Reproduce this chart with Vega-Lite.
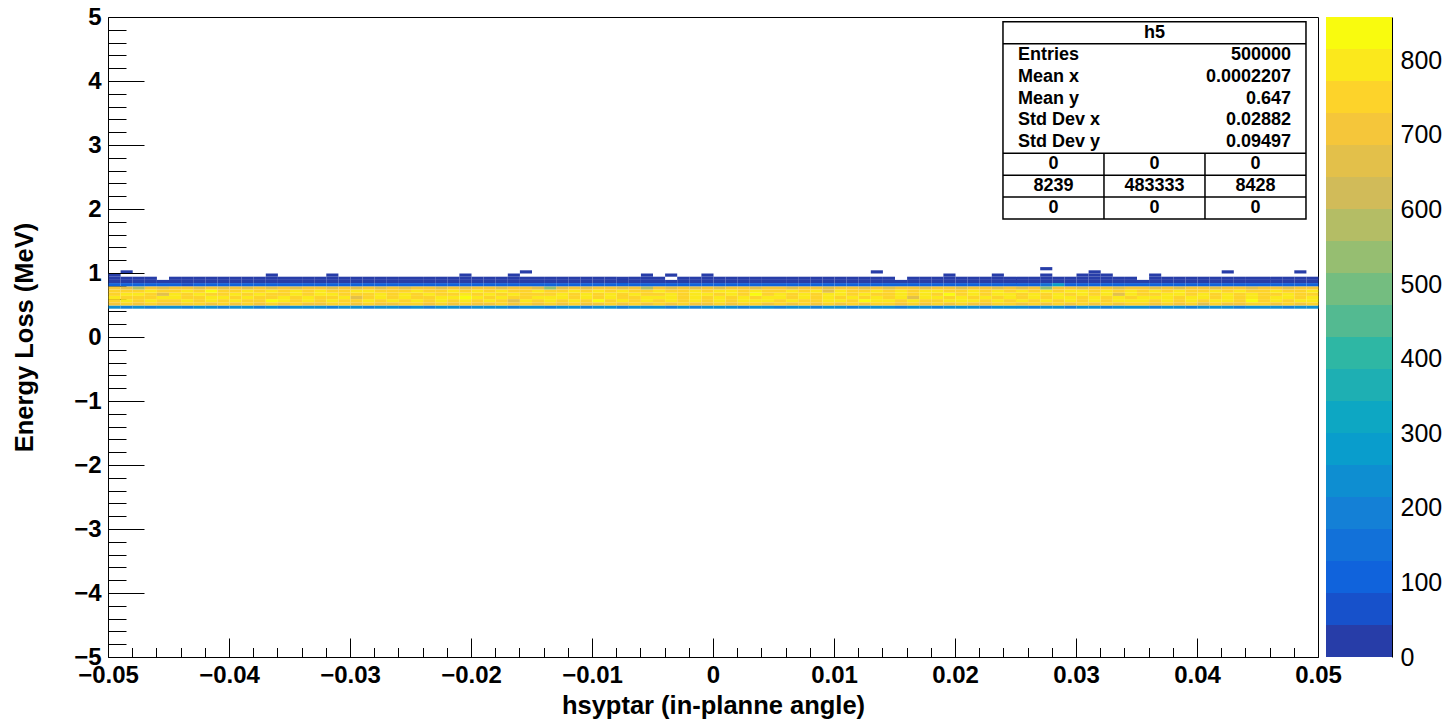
{
  "$schema": "https://vega.github.io/schema/vega-lite/v6.json",
  "padding": {"left": 12, "top": 4, "right": 0, "bottom": 0},
  "background": "white",
  "config": {
    "view": {"stroke": "black", "strokeWidth": 1},
    "axis": {"grid": false, "domain": false, "tickColor": "black", "tickWidth": 1, "labelColor": "black", "titleColor": "black", "labelFont": "Liberation Sans", "titleFont": "Liberation Sans"},
    "text": {"font": "Liberation Sans", "fontWeight": "bold", "fontSize": 18, "color": "black", "baseline": "middle"}
  },
  "spacing": 8,
  "bounds": "flush",
  "resolve": {"scale": {"color": "shared"}},
  "hconcat": [
    {
      "width": 1210,
      "height": 640,
      "layer": [
        {
          "layer": [
            {
              "data": {"values": [
{"x":-0.05,"y":0.45,"c":230},{"x":-0.05,"y":0.5,"c":720},{"x":-0.05,"y":0.55,"c":760},{"x":-0.05,"y":0.6,"c":790},{"x":-0.05,"y":0.65,"c":750},{"x":-0.05,"y":0.7,"c":770},{"x":-0.05,"y":0.75,"c":690},{"x":-0.05,"y":0.8,"c":110},{"x":-0.05,"y":0.85,"c":30},{"x":-0.05,"y":0.9,"c":9},{"x":-0.05,"y":0.95,"c":2},
{"x":-0.049,"y":0.45,"c":210},{"x":-0.049,"y":0.5,"c":735},{"x":-0.049,"y":0.55,"c":780},{"x":-0.049,"y":0.6,"c":745},{"x":-0.049,"y":0.65,"c":800},{"x":-0.049,"y":0.7,"c":760},{"x":-0.049,"y":0.75,"c":660},{"x":-0.049,"y":0.8,"c":95},{"x":-0.049,"y":0.85,"c":28},{"x":-0.049,"y":0.9,"c":7},{"x":-0.049,"y":1,"c":1},
{"x":-0.048,"y":0.45,"c":250},{"x":-0.048,"y":0.5,"c":705},{"x":-0.048,"y":0.55,"c":750},{"x":-0.048,"y":0.6,"c":770},{"x":-0.048,"y":0.65,"c":780},{"x":-0.048,"y":0.7,"c":745},{"x":-0.048,"y":0.75,"c":560},{"x":-0.048,"y":0.8,"c":120},{"x":-0.048,"y":0.85,"c":32},{"x":-0.048,"y":0.9,"c":10},
{"x":-0.047,"y":0.45,"c":190},{"x":-0.047,"y":0.5,"c":740},{"x":-0.047,"y":0.55,"c":790},{"x":-0.047,"y":0.6,"c":760},{"x":-0.047,"y":0.65,"c":740},{"x":-0.047,"y":0.7,"c":790},{"x":-0.047,"y":0.75,"c":700},{"x":-0.047,"y":0.8,"c":90},{"x":-0.047,"y":0.85,"c":25},{"x":-0.047,"y":0.9,"c":8},
{"x":-0.046,"y":0.45,"c":220},{"x":-0.046,"y":0.5,"c":725},{"x":-0.046,"y":0.55,"c":770},{"x":-0.046,"y":0.6,"c":805},{"x":-0.046,"y":0.65,"c":665},{"x":-0.046,"y":0.7,"c":735},{"x":-0.046,"y":0.75,"c":680},{"x":-0.046,"y":0.8,"c":100},{"x":-0.046,"y":0.85,"c":27},
{"x":-0.045,"y":0.45,"c":240},{"x":-0.045,"y":0.5,"c":700},{"x":-0.045,"y":0.55,"c":745},{"x":-0.045,"y":0.6,"c":780},{"x":-0.045,"y":0.65,"c":790},{"x":-0.045,"y":0.7,"c":770},{"x":-0.045,"y":0.75,"c":710},{"x":-0.045,"y":0.8,"c":105},{"x":-0.045,"y":0.85,"c":31},{"x":-0.045,"y":0.9,"c":6},
{"x":-0.044,"y":0.45,"c":205},{"x":-0.044,"y":0.5,"c":730},{"x":-0.044,"y":0.55,"c":800},{"x":-0.044,"y":0.6,"c":760},{"x":-0.044,"y":0.65,"c":755},{"x":-0.044,"y":0.7,"c":780},{"x":-0.044,"y":0.75,"c":690},{"x":-0.044,"y":0.8,"c":85},{"x":-0.044,"y":0.85,"c":29},{"x":-0.044,"y":0.9,"c":9},
{"x":-0.043,"y":0.45,"c":235},{"x":-0.043,"y":0.5,"c":745},{"x":-0.043,"y":0.55,"c":765},{"x":-0.043,"y":0.6,"c":740},{"x":-0.043,"y":0.65,"c":795},{"x":-0.043,"y":0.7,"c":750},{"x":-0.043,"y":0.75,"c":670},{"x":-0.043,"y":0.8,"c":115},{"x":-0.043,"y":0.85,"c":26},{"x":-0.043,"y":0.9,"c":8},
{"x":-0.042,"y":0.45,"c":215},{"x":-0.042,"y":0.5,"c":715},{"x":-0.042,"y":0.55,"c":780},{"x":-0.042,"y":0.6,"c":790},{"x":-0.042,"y":0.65,"c":760},{"x":-0.042,"y":0.7,"c":845},{"x":-0.042,"y":0.75,"c":700},{"x":-0.042,"y":0.8,"c":98},{"x":-0.042,"y":0.85,"c":30},{"x":-0.042,"y":0.9,"c":7},
{"x":-0.041,"y":0.45,"c":200},{"x":-0.041,"y":0.5,"c":750},{"x":-0.041,"y":0.55,"c":755},{"x":-0.041,"y":0.6,"c":775},{"x":-0.041,"y":0.65,"c":745},{"x":-0.041,"y":0.7,"c":765},{"x":-0.041,"y":0.75,"c":680},{"x":-0.041,"y":0.8,"c":108},{"x":-0.041,"y":0.85,"c":33},{"x":-0.041,"y":0.9,"c":10},
{"x":-0.04,"y":0.45,"c":245},{"x":-0.04,"y":0.5,"c":710},{"x":-0.04,"y":0.55,"c":790},{"x":-0.04,"y":0.6,"c":760},{"x":-0.04,"y":0.65,"c":780},{"x":-0.04,"y":0.7,"c":740},{"x":-0.04,"y":0.75,"c":695},{"x":-0.04,"y":0.8,"c":92},{"x":-0.04,"y":0.85,"c":27},{"x":-0.04,"y":0.9,"c":6},
{"x":-0.039,"y":0.45,"c":225},{"x":-0.039,"y":0.5,"c":735},{"x":-0.039,"y":0.55,"c":770},{"x":-0.039,"y":0.6,"c":800},{"x":-0.039,"y":0.65,"c":770},{"x":-0.039,"y":0.7,"c":785},{"x":-0.039,"y":0.75,"c":665},{"x":-0.039,"y":0.8,"c":112},{"x":-0.039,"y":0.85,"c":29},{"x":-0.039,"y":0.9,"c":9},
{"x":-0.038,"y":0.45,"c":210},{"x":-0.038,"y":0.5,"c":720},{"x":-0.038,"y":0.55,"c":745},{"x":-0.038,"y":0.6,"c":765},{"x":-0.038,"y":0.65,"c":805},{"x":-0.038,"y":0.7,"c":755},{"x":-0.038,"y":0.75,"c":700},{"x":-0.038,"y":0.8,"c":88},{"x":-0.038,"y":0.85,"c":31},{"x":-0.038,"y":0.9,"c":8},
{"x":-0.037,"y":0.45,"c":230},{"x":-0.037,"y":0.5,"c":740},{"x":-0.037,"y":0.55,"c":830},{"x":-0.037,"y":0.6,"c":770},{"x":-0.037,"y":0.65,"c":750},{"x":-0.037,"y":0.7,"c":790},{"x":-0.037,"y":0.75,"c":675},{"x":-0.037,"y":0.8,"c":104},{"x":-0.037,"y":0.85,"c":28},{"x":-0.037,"y":0.9,"c":11},{"x":-0.037,"y":0.95,"c":2},
{"x":-0.036,"y":0.45,"c":195},{"x":-0.036,"y":0.5,"c":705},{"x":-0.036,"y":0.55,"c":775},{"x":-0.036,"y":0.6,"c":795},{"x":-0.036,"y":0.65,"c":765},{"x":-0.036,"y":0.7,"c":760},{"x":-0.036,"y":0.75,"c":710},{"x":-0.036,"y":0.8,"c":96},{"x":-0.036,"y":0.85,"c":30},{"x":-0.036,"y":0.9,"c":7},
{"x":-0.035,"y":0.45,"c":240},{"x":-0.035,"y":0.5,"c":745},{"x":-0.035,"y":0.55,"c":760},{"x":-0.035,"y":0.6,"c":750},{"x":-0.035,"y":0.65,"c":800},{"x":-0.035,"y":0.7,"c":775},{"x":-0.035,"y":0.75,"c":660},{"x":-0.035,"y":0.8,"c":118},{"x":-0.035,"y":0.85,"c":26},{"x":-0.035,"y":0.9,"c":9},
{"x":-0.034,"y":0.45,"c":220},{"x":-0.034,"y":0.5,"c":725},{"x":-0.034,"y":0.55,"c":790},{"x":-0.034,"y":0.6,"c":785},{"x":-0.034,"y":0.65,"c":745},{"x":-0.034,"y":0.7,"c":745},{"x":-0.034,"y":0.75,"c":690},{"x":-0.034,"y":0.8,"c":93},{"x":-0.034,"y":0.85,"c":32},{"x":-0.034,"y":0.9,"c":8},
{"x":-0.033,"y":0.45,"c":250},{"x":-0.033,"y":0.5,"c":700},{"x":-0.033,"y":0.55,"c":765},{"x":-0.033,"y":0.6,"c":770},{"x":-0.033,"y":0.65,"c":775},{"x":-0.033,"y":0.7,"c":810},{"x":-0.033,"y":0.75,"c":700},{"x":-0.033,"y":0.8,"c":101},{"x":-0.033,"y":0.85,"c":29},{"x":-0.033,"y":0.9,"c":10},
{"x":-0.032,"y":0.45,"c":205},{"x":-0.032,"y":0.5,"c":735},{"x":-0.032,"y":0.55,"c":800},{"x":-0.032,"y":0.6,"c":755},{"x":-0.032,"y":0.65,"c":790},{"x":-0.032,"y":0.7,"c":765},{"x":-0.032,"y":0.75,"c":680},{"x":-0.032,"y":0.8,"c":99},{"x":-0.032,"y":0.85,"c":27},{"x":-0.032,"y":0.9,"c":9},{"x":-0.032,"y":0.95,"c":2},
{"x":-0.031,"y":0.45,"c":230},{"x":-0.031,"y":0.5,"c":750},{"x":-0.031,"y":0.55,"c":770},{"x":-0.031,"y":0.6,"c":790},{"x":-0.031,"y":0.65,"c":760},{"x":-0.031,"y":0.7,"c":740},{"x":-0.031,"y":0.75,"c":705},{"x":-0.031,"y":0.8,"c":87},{"x":-0.031,"y":0.85,"c":30},{"x":-0.031,"y":0.9,"c":7},
{"x":-0.03,"y":0.45,"c":215},{"x":-0.03,"y":0.5,"c":715},{"x":-0.03,"y":0.55,"c":755},{"x":-0.03,"y":0.6,"c":660},{"x":-0.03,"y":0.65,"c":770},{"x":-0.03,"y":0.7,"c":780},{"x":-0.03,"y":0.75,"c":670},{"x":-0.03,"y":0.8,"c":110},{"x":-0.03,"y":0.85,"c":31},{"x":-0.03,"y":0.9,"c":8},
{"x":-0.029,"y":0.45,"c":200},{"x":-0.029,"y":0.5,"c":740},{"x":-0.029,"y":0.55,"c":785},{"x":-0.029,"y":0.6,"c":765},{"x":-0.029,"y":0.65,"c":745},{"x":-0.029,"y":0.7,"c":795},{"x":-0.029,"y":0.75,"c":695},{"x":-0.029,"y":0.8,"c":95},{"x":-0.029,"y":0.85,"c":28},{"x":-0.029,"y":0.9,"c":6},
{"x":-0.028,"y":0.45,"c":245},{"x":-0.028,"y":0.5,"c":720},{"x":-0.028,"y":0.55,"c":770},{"x":-0.028,"y":0.6,"c":780},{"x":-0.028,"y":0.65,"c":800},{"x":-0.028,"y":0.7,"c":755},{"x":-0.028,"y":0.75,"c":685},{"x":-0.028,"y":0.8,"c":106},{"x":-0.028,"y":0.85,"c":33},{"x":-0.028,"y":0.9,"c":9},
{"x":-0.027,"y":0.45,"c":225},{"x":-0.027,"y":0.5,"c":705},{"x":-0.027,"y":0.55,"c":800},{"x":-0.027,"y":0.6,"c":750},{"x":-0.027,"y":0.65,"c":765},{"x":-0.027,"y":0.7,"c":770},{"x":-0.027,"y":0.75,"c":700},{"x":-0.027,"y":0.8,"c":91},{"x":-0.027,"y":0.85,"c":27},{"x":-0.027,"y":0.9,"c":10},
{"x":-0.026,"y":0.45,"c":210},{"x":-0.026,"y":0.5,"c":745},{"x":-0.026,"y":0.55,"c":760},{"x":-0.026,"y":0.6,"c":795},{"x":-0.026,"y":0.65,"c":780},{"x":-0.026,"y":0.7,"c":750},{"x":-0.026,"y":0.75,"c":665},{"x":-0.026,"y":0.8,"c":114},{"x":-0.026,"y":0.85,"c":29},{"x":-0.026,"y":0.9,"c":8},
{"x":-0.025,"y":0.45,"c":235},{"x":-0.025,"y":0.5,"c":730},{"x":-0.025,"y":0.55,"c":790},{"x":-0.025,"y":0.6,"c":770},{"x":-0.025,"y":0.65,"c":755},{"x":-0.025,"y":0.7,"c":800},{"x":-0.025,"y":0.75,"c":690},{"x":-0.025,"y":0.8,"c":97},{"x":-0.025,"y":0.85,"c":30},{"x":-0.025,"y":0.9,"c":7},
{"x":-0.024,"y":0.45,"c":190},{"x":-0.024,"y":0.5,"c":715},{"x":-0.024,"y":0.55,"c":765},{"x":-0.024,"y":0.6,"c":760},{"x":-0.024,"y":0.65,"c":790},{"x":-0.024,"y":0.7,"c":765},{"x":-0.024,"y":0.75,"c":705},{"x":-0.024,"y":0.8,"c":102},{"x":-0.024,"y":0.85,"c":26},{"x":-0.024,"y":0.9,"c":9},
{"x":-0.023,"y":0.45,"c":240},{"x":-0.023,"y":0.5,"c":750},{"x":-0.023,"y":0.55,"c":780},{"x":-0.023,"y":0.6,"c":800},{"x":-0.023,"y":0.65,"c":770},{"x":-0.023,"y":0.7,"c":745},{"x":-0.023,"y":0.75,"c":675},{"x":-0.023,"y":0.8,"c":89},{"x":-0.023,"y":0.85,"c":32},{"x":-0.023,"y":0.9,"c":8},
{"x":-0.022,"y":0.45,"c":220},{"x":-0.022,"y":0.5,"c":710},{"x":-0.022,"y":0.55,"c":755},{"x":-0.022,"y":0.6,"c":775},{"x":-0.022,"y":0.65,"c":745},{"x":-0.022,"y":0.7,"c":785},{"x":-0.022,"y":0.75,"c":700},{"x":-0.022,"y":0.8,"c":108},{"x":-0.022,"y":0.85,"c":28},{"x":-0.022,"y":0.9,"c":10},
{"x":-0.021,"y":0.45,"c":205},{"x":-0.021,"y":0.5,"c":735},{"x":-0.021,"y":0.55,"c":805},{"x":-0.021,"y":0.6,"c":840},{"x":-0.021,"y":0.65,"c":795},{"x":-0.021,"y":0.7,"c":760},{"x":-0.021,"y":0.75,"c":680},{"x":-0.021,"y":0.8,"c":94},{"x":-0.021,"y":0.85,"c":31},{"x":-0.021,"y":0.9,"c":9},{"x":-0.021,"y":0.95,"c":2},
{"x":-0.02,"y":0.45,"c":230},{"x":-0.02,"y":0.5,"c":725},{"x":-0.02,"y":0.55,"c":770},{"x":-0.02,"y":0.6,"c":790},{"x":-0.02,"y":0.65,"c":765},{"x":-0.02,"y":0.7,"c":775},{"x":-0.02,"y":0.75,"c":695},{"x":-0.02,"y":0.8,"c":112},{"x":-0.02,"y":0.85,"c":29},{"x":-0.02,"y":0.9,"c":7},
{"x":-0.019,"y":0.45,"c":250},{"x":-0.019,"y":0.5,"c":700},{"x":-0.019,"y":0.55,"c":790},{"x":-0.019,"y":0.6,"c":765},{"x":-0.019,"y":0.65,"c":780},{"x":-0.019,"y":0.7,"c":750},{"x":-0.019,"y":0.75,"c":710},{"x":-0.019,"y":0.8,"c":90},{"x":-0.019,"y":0.85,"c":27},{"x":-0.019,"y":0.9,"c":8},
{"x":-0.018,"y":0.45,"c":215},{"x":-0.018,"y":0.5,"c":745},{"x":-0.018,"y":0.55,"c":760},{"x":-0.018,"y":0.6,"c":805},{"x":-0.018,"y":0.65,"c":755},{"x":-0.018,"y":0.7,"c":790},{"x":-0.018,"y":0.75,"c":670},{"x":-0.018,"y":0.8,"c":103},{"x":-0.018,"y":0.85,"c":30},{"x":-0.018,"y":0.9,"c":6},
{"x":-0.017,"y":0.45,"c":200},{"x":-0.017,"y":0.5,"c":720},{"x":-0.017,"y":0.55,"c":670},{"x":-0.017,"y":0.6,"c":770},{"x":-0.017,"y":0.65,"c":800},{"x":-0.017,"y":0.7,"c":765},{"x":-0.017,"y":0.75,"c":690},{"x":-0.017,"y":0.8,"c":96},{"x":-0.017,"y":0.85,"c":33},{"x":-0.017,"y":0.9,"c":9},{"x":-0.017,"y":0.95,"c":2},
{"x":-0.016,"y":0.45,"c":235},{"x":-0.016,"y":0.5,"c":740},{"x":-0.016,"y":0.55,"c":800},{"x":-0.016,"y":0.6,"c":750},{"x":-0.016,"y":0.65,"c":770},{"x":-0.016,"y":0.7,"c":740},{"x":-0.016,"y":0.75,"c":700},{"x":-0.016,"y":0.8,"c":110},{"x":-0.016,"y":0.85,"c":28},{"x":-0.016,"y":0.9,"c":8},{"x":-0.016,"y":1,"c":1},
{"x":-0.015,"y":0.45,"c":225},{"x":-0.015,"y":0.5,"c":710},{"x":-0.015,"y":0.55,"c":765},{"x":-0.015,"y":0.6,"c":790},{"x":-0.015,"y":0.65,"c":760},{"x":-0.015,"y":0.7,"c":795},{"x":-0.015,"y":0.75,"c":665},{"x":-0.015,"y":0.8,"c":99},{"x":-0.015,"y":0.85,"c":26},{"x":-0.015,"y":0.9,"c":10},
{"x":-0.014,"y":0.45,"c":210},{"x":-0.014,"y":0.5,"c":735},{"x":-0.014,"y":0.55,"c":785},{"x":-0.014,"y":0.6,"c":775},{"x":-0.014,"y":0.65,"c":745},{"x":-0.014,"y":0.7,"c":770},{"x":-0.014,"y":0.75,"c":545},{"x":-0.014,"y":0.8,"c":118},{"x":-0.014,"y":0.85,"c":31},{"x":-0.014,"y":0.9,"c":7},
{"x":-0.013,"y":0.45,"c":245},{"x":-0.013,"y":0.5,"c":705},{"x":-0.013,"y":0.55,"c":755},{"x":-0.013,"y":0.6,"c":800},{"x":-0.013,"y":0.65,"c":790},{"x":-0.013,"y":0.7,"c":755},{"x":-0.013,"y":0.75,"c":685},{"x":-0.013,"y":0.8,"c":92},{"x":-0.013,"y":0.85,"c":29},{"x":-0.013,"y":0.9,"c":9},
{"x":-0.012,"y":0.45,"c":220},{"x":-0.012,"y":0.5,"c":750},{"x":-0.012,"y":0.55,"c":790},{"x":-0.012,"y":0.6,"c":765},{"x":-0.012,"y":0.65,"c":770},{"x":-0.012,"y":0.7,"c":780},{"x":-0.012,"y":0.75,"c":700},{"x":-0.012,"y":0.8,"c":105},{"x":-0.012,"y":0.85,"c":27},{"x":-0.012,"y":0.9,"c":8},
{"x":-0.011,"y":0.45,"c":195},{"x":-0.011,"y":0.5,"c":725},{"x":-0.011,"y":0.55,"c":770},{"x":-0.011,"y":0.6,"c":785},{"x":-0.011,"y":0.65,"c":805},{"x":-0.011,"y":0.7,"c":745},{"x":-0.011,"y":0.75,"c":675},{"x":-0.011,"y":0.8,"c":88},{"x":-0.011,"y":0.85,"c":32},{"x":-0.011,"y":0.9,"c":10},
{"x":-0.01,"y":0.45,"c":240},{"x":-0.01,"y":0.5,"c":715},{"x":-0.01,"y":0.55,"c":850},{"x":-0.01,"y":0.6,"c":760},{"x":-0.01,"y":0.65,"c":755},{"x":-0.01,"y":0.7,"c":790},{"x":-0.01,"y":0.75,"c":690},{"x":-0.01,"y":0.8,"c":111},{"x":-0.01,"y":0.85,"c":30},{"x":-0.01,"y":0.9,"c":7},
{"x":-0.009,"y":0.45,"c":230},{"x":-0.009,"y":0.5,"c":745},{"x":-0.009,"y":0.55,"c":760},{"x":-0.009,"y":0.6,"c":795},{"x":-0.009,"y":0.65,"c":780},{"x":-0.009,"y":0.7,"c":765},{"x":-0.009,"y":0.75,"c":710},{"x":-0.009,"y":0.8,"c":95},{"x":-0.009,"y":0.85,"c":28},{"x":-0.009,"y":0.9,"c":9},
{"x":-0.008,"y":0.45,"c":205},{"x":-0.008,"y":0.5,"c":700},{"x":-0.008,"y":0.55,"c":785},{"x":-0.008,"y":0.6,"c":770},{"x":-0.008,"y":0.65,"c":765},{"x":-0.008,"y":0.7,"c":800},{"x":-0.008,"y":0.75,"c":680},{"x":-0.008,"y":0.8,"c":101},{"x":-0.008,"y":0.85,"c":31},{"x":-0.008,"y":0.9,"c":8},
{"x":-0.007,"y":0.45,"c":250},{"x":-0.007,"y":0.5,"c":735},{"x":-0.007,"y":0.55,"c":770},{"x":-0.007,"y":0.6,"c":750},{"x":-0.007,"y":0.65,"c":795},{"x":-0.007,"y":0.7,"c":760},{"x":-0.007,"y":0.75,"c":695},{"x":-0.007,"y":0.8,"c":107},{"x":-0.007,"y":0.85,"c":26},{"x":-0.007,"y":0.9,"c":6},
{"x":-0.006,"y":0.45,"c":215},{"x":-0.006,"y":0.5,"c":720},{"x":-0.006,"y":0.55,"c":805},{"x":-0.006,"y":0.6,"c":790},{"x":-0.006,"y":0.65,"c":770},{"x":-0.006,"y":0.7,"c":745},{"x":-0.006,"y":0.75,"c":560},{"x":-0.006,"y":0.8,"c":93},{"x":-0.006,"y":0.85,"c":29},{"x":-0.006,"y":0.9,"c":10},{"x":-0.006,"y":0.95,"c":2},
{"x":-0.005,"y":0.45,"c":225},{"x":-0.005,"y":0.5,"c":740},{"x":-0.005,"y":0.55,"c":765},{"x":-0.005,"y":0.6,"c":775},{"x":-0.005,"y":0.65,"c":750},{"x":-0.005,"y":0.7,"c":785},{"x":-0.005,"y":0.75,"c":700},{"x":-0.005,"y":0.8,"c":116},{"x":-0.005,"y":0.85,"c":33},{"x":-0.005,"y":0.9,"c":9},
{"x":-0.004,"y":0.45,"c":200},{"x":-0.004,"y":0.5,"c":710},{"x":-0.004,"y":0.55,"c":780},{"x":-0.004,"y":0.6,"c":805},{"x":-0.004,"y":0.65,"c":785},{"x":-0.004,"y":0.7,"c":770},{"x":-0.004,"y":0.75,"c":670},{"x":-0.004,"y":0.8,"c":90},{"x":-0.004,"y":0.85,"c":27},{"x":-0.004,"y":0.95,"c":2},
{"x":-0.003,"y":0.45,"c":235},{"x":-0.003,"y":0.5,"c":745},{"x":-0.003,"y":0.55,"c":755},{"x":-0.003,"y":0.6,"c":765},{"x":-0.003,"y":0.65,"c":760},{"x":-0.003,"y":0.7,"c":755},{"x":-0.003,"y":0.75,"c":705},{"x":-0.003,"y":0.8,"c":104},{"x":-0.003,"y":0.85,"c":30},{"x":-0.003,"y":0.9,"c":8},
{"x":-0.002,"y":0.45,"c":210},{"x":-0.002,"y":0.5,"c":725},{"x":-0.002,"y":0.55,"c":795},{"x":-0.002,"y":0.6,"c":780},{"x":-0.002,"y":0.65,"c":800},{"x":-0.002,"y":0.7,"c":790},{"x":-0.002,"y":0.75,"c":685},{"x":-0.002,"y":0.8,"c":97},{"x":-0.002,"y":0.85,"c":28},{"x":-0.002,"y":0.9,"c":7},
{"x":-0.001,"y":0.45,"c":245},{"x":-0.001,"y":0.5,"c":705},{"x":-0.001,"y":0.55,"c":770},{"x":-0.001,"y":0.6,"c":760},{"x":-0.001,"y":0.65,"c":775},{"x":-0.001,"y":0.7,"c":740},{"x":-0.001,"y":0.75,"c":700},{"x":-0.001,"y":0.8,"c":109},{"x":-0.001,"y":0.85,"c":31},{"x":-0.001,"y":0.9,"c":9},{"x":-0.001,"y":0.95,"c":2},
{"x":0,"y":0.45,"c":220},{"x":0,"y":0.5,"c":750},{"x":0,"y":0.55,"c":790},{"x":0,"y":0.6,"c":795},{"x":0,"y":0.65,"c":745},{"x":0,"y":0.7,"c":775},{"x":0,"y":0.75,"c":665},{"x":0,"y":0.8,"c":94},{"x":0,"y":0.85,"c":29},{"x":0,"y":0.9,"c":8},
{"x":0.001,"y":0.45,"c":230},{"x":0.001,"y":0.5,"c":715},{"x":0.001,"y":0.55,"c":760},{"x":0.001,"y":0.6,"c":770},{"x":0.001,"y":0.65,"c":790},{"x":0.001,"y":0.7,"c":800},{"x":0.001,"y":0.75,"c":690},{"x":0.001,"y":0.8,"c":112},{"x":0.001,"y":0.85,"c":27},{"x":0.001,"y":0.9,"c":10},
{"x":0.002,"y":0.45,"c":205},{"x":0.002,"y":0.5,"c":740},{"x":0.002,"y":0.55,"c":800},{"x":0.002,"y":0.6,"c":785},{"x":0.002,"y":0.65,"c":770},{"x":0.002,"y":0.7,"c":760},{"x":0.002,"y":0.75,"c":710},{"x":0.002,"y":0.8,"c":91},{"x":0.002,"y":0.85,"c":32},{"x":0.002,"y":0.9,"c":6},
{"x":0.003,"y":0.45,"c":240},{"x":0.003,"y":0.5,"c":730},{"x":0.003,"y":0.55,"c":775},{"x":0.003,"y":0.6,"c":750},{"x":0.003,"y":0.65,"c":825},{"x":0.003,"y":0.7,"c":785},{"x":0.003,"y":0.75,"c":680},{"x":0.003,"y":0.8,"c":103},{"x":0.003,"y":0.85,"c":30},{"x":0.003,"y":0.9,"c":9},
{"x":0.004,"y":0.45,"c":215},{"x":0.004,"y":0.5,"c":710},{"x":0.004,"y":0.55,"c":785},{"x":0.004,"y":0.6,"c":800},{"x":0.004,"y":0.65,"c":760},{"x":0.004,"y":0.7,"c":745},{"x":0.004,"y":0.75,"c":695},{"x":0.004,"y":0.8,"c":98},{"x":0.004,"y":0.85,"c":26},{"x":0.004,"y":0.9,"c":8},
{"x":0.005,"y":0.45,"c":195},{"x":0.005,"y":0.5,"c":745},{"x":0.005,"y":0.55,"c":765},{"x":0.005,"y":0.6,"c":775},{"x":0.005,"y":0.65,"c":780},{"x":0.005,"y":0.7,"c":770},{"x":0.005,"y":0.75,"c":700},{"x":0.005,"y":0.8,"c":106},{"x":0.005,"y":0.85,"c":28},{"x":0.005,"y":0.9,"c":7},
{"x":0.006,"y":0.45,"c":250},{"x":0.006,"y":0.5,"c":720},{"x":0.006,"y":0.55,"c":800},{"x":0.006,"y":0.6,"c":760},{"x":0.006,"y":0.65,"c":750},{"x":0.006,"y":0.7,"c":795},{"x":0.006,"y":0.75,"c":675},{"x":0.006,"y":0.8,"c":95},{"x":0.006,"y":0.85,"c":31},{"x":0.006,"y":0.9,"c":10},
{"x":0.007,"y":0.45,"c":225},{"x":0.007,"y":0.5,"c":735},{"x":0.007,"y":0.55,"c":770},{"x":0.007,"y":0.6,"c":790},{"x":0.007,"y":0.65,"c":795},{"x":0.007,"y":0.7,"c":755},{"x":0.007,"y":0.75,"c":690},{"x":0.007,"y":0.8,"c":113},{"x":0.007,"y":0.85,"c":29},{"x":0.007,"y":0.9,"c":9},
{"x":0.008,"y":0.45,"c":210},{"x":0.008,"y":0.5,"c":705},{"x":0.008,"y":0.55,"c":755},{"x":0.008,"y":0.6,"c":770},{"x":0.008,"y":0.65,"c":765},{"x":0.008,"y":0.7,"c":780},{"x":0.008,"y":0.75,"c":705},{"x":0.008,"y":0.8,"c":88},{"x":0.008,"y":0.85,"c":33},{"x":0.008,"y":0.9,"c":8},
{"x":0.009,"y":0.45,"c":235},{"x":0.009,"y":0.5,"c":750},{"x":0.009,"y":0.55,"c":790},{"x":0.009,"y":0.6,"c":805},{"x":0.009,"y":0.65,"c":775},{"x":0.009,"y":0.7,"c":650},{"x":0.009,"y":0.75,"c":670},{"x":0.009,"y":0.8,"c":100},{"x":0.009,"y":0.85,"c":27},{"x":0.009,"y":0.9,"c":6},
{"x":0.01,"y":0.45,"c":220},{"x":0.01,"y":0.5,"c":725},{"x":0.01,"y":0.55,"c":780},{"x":0.01,"y":0.6,"c":765},{"x":0.01,"y":0.65,"c":790},{"x":0.01,"y":0.7,"c":790},{"x":0.01,"y":0.75,"c":695},{"x":0.01,"y":0.8,"c":107},{"x":0.01,"y":0.85,"c":30},{"x":0.01,"y":0.9,"c":9},
{"x":0.011,"y":0.45,"c":200},{"x":0.011,"y":0.5,"c":740},{"x":0.011,"y":0.55,"c":760},{"x":0.011,"y":0.6,"c":780},{"x":0.011,"y":0.65,"c":755},{"x":0.011,"y":0.7,"c":770},{"x":0.011,"y":0.75,"c":710},{"x":0.011,"y":0.8,"c":92},{"x":0.011,"y":0.85,"c":28},{"x":0.011,"y":0.9,"c":7},
{"x":0.012,"y":0.45,"c":245},{"x":0.012,"y":0.5,"c":715},{"x":0.012,"y":0.55,"c":855},{"x":0.012,"y":0.6,"c":755},{"x":0.012,"y":0.65,"c":800},{"x":0.012,"y":0.7,"c":745},{"x":0.012,"y":0.75,"c":685},{"x":0.012,"y":0.8,"c":110},{"x":0.012,"y":0.85,"c":31},{"x":0.012,"y":0.9,"c":10},
{"x":0.013,"y":0.45,"c":230},{"x":0.013,"y":0.5,"c":730},{"x":0.013,"y":0.55,"c":775},{"x":0.013,"y":0.6,"c":795},{"x":0.013,"y":0.65,"c":770},{"x":0.013,"y":0.7,"c":785},{"x":0.013,"y":0.75,"c":700},{"x":0.013,"y":0.8,"c":97},{"x":0.013,"y":0.85,"c":26},{"x":0.013,"y":0.9,"c":8},{"x":0.013,"y":1,"c":1},
{"x":0.014,"y":0.45,"c":215},{"x":0.014,"y":0.5,"c":745},{"x":0.014,"y":0.55,"c":790},{"x":0.014,"y":0.6,"c":770},{"x":0.014,"y":0.65,"c":760},{"x":0.014,"y":0.7,"c":765},{"x":0.014,"y":0.75,"c":665},{"x":0.014,"y":0.8,"c":104},{"x":0.014,"y":0.85,"c":29},{"x":0.014,"y":0.9,"c":9},
{"x":0.015,"y":0.45,"c":205},{"x":0.015,"y":0.5,"c":710},{"x":0.015,"y":0.55,"c":765},{"x":0.015,"y":0.6,"c":785},{"x":0.015,"y":0.65,"c":785},{"x":0.015,"y":0.7,"c":800},{"x":0.015,"y":0.75,"c":690},{"x":0.015,"y":0.8,"c":93},{"x":0.015,"y":0.85,"c":32},
{"x":0.016,"y":0.45,"c":240},{"x":0.016,"y":0.5,"c":735},{"x":0.016,"y":0.55,"c":800},{"x":0.016,"y":0.6,"c":675},{"x":0.016,"y":0.65,"c":750},{"x":0.016,"y":0.7,"c":755},{"x":0.016,"y":0.75,"c":705},{"x":0.016,"y":0.8,"c":115},{"x":0.016,"y":0.85,"c":27},{"x":0.016,"y":0.9,"c":8},
{"x":0.017,"y":0.45,"c":225},{"x":0.017,"y":0.5,"c":720},{"x":0.017,"y":0.55,"c":770},{"x":0.017,"y":0.6,"c":800},{"x":0.017,"y":0.65,"c":795},{"x":0.017,"y":0.7,"c":775},{"x":0.017,"y":0.75,"c":680},{"x":0.017,"y":0.8,"c":99},{"x":0.017,"y":0.85,"c":30},{"x":0.017,"y":0.9,"c":7},
{"x":0.018,"y":0.45,"c":210},{"x":0.018,"y":0.5,"c":750},{"x":0.018,"y":0.55,"c":755},{"x":0.018,"y":0.6,"c":775},{"x":0.018,"y":0.65,"c":770},{"x":0.018,"y":0.7,"c":790},{"x":0.018,"y":0.75,"c":695},{"x":0.018,"y":0.8,"c":90},{"x":0.018,"y":0.85,"c":28},{"x":0.018,"y":0.9,"c":10},
{"x":0.019,"y":0.45,"c":235},{"x":0.019,"y":0.5,"c":705},{"x":0.019,"y":0.55,"c":785},{"x":0.019,"y":0.6,"c":765},{"x":0.019,"y":0.65,"c":835},{"x":0.019,"y":0.7,"c":760},{"x":0.019,"y":0.75,"c":700},{"x":0.019,"y":0.8,"c":108},{"x":0.019,"y":0.85,"c":31},{"x":0.019,"y":0.9,"c":9},{"x":0.019,"y":0.95,"c":2},
{"x":0.02,"y":0.45,"c":250},{"x":0.02,"y":0.5,"c":740},{"x":0.02,"y":0.55,"c":775},{"x":0.02,"y":0.6,"c":790},{"x":0.02,"y":0.65,"c":765},{"x":0.02,"y":0.7,"c":745},{"x":0.02,"y":0.75,"c":670},{"x":0.02,"y":0.8,"c":96},{"x":0.02,"y":0.85,"c":29},{"x":0.02,"y":0.9,"c":6},
{"x":0.021,"y":0.45,"c":220},{"x":0.021,"y":0.5,"c":725},{"x":0.021,"y":0.55,"c":800},{"x":0.021,"y":0.6,"c":770},{"x":0.021,"y":0.65,"c":780},{"x":0.021,"y":0.7,"c":785},{"x":0.021,"y":0.75,"c":705},{"x":0.021,"y":0.8,"c":102},{"x":0.021,"y":0.85,"c":26},{"x":0.021,"y":0.9,"c":8},
{"x":0.022,"y":0.45,"c":200},{"x":0.022,"y":0.5,"c":715},{"x":0.022,"y":0.55,"c":760},{"x":0.022,"y":0.6,"c":805},{"x":0.022,"y":0.65,"c":755},{"x":0.022,"y":0.7,"c":770},{"x":0.022,"y":0.75,"c":690},{"x":0.022,"y":0.8,"c":111},{"x":0.022,"y":0.85,"c":33},{"x":0.022,"y":0.9,"c":9},
{"x":0.023,"y":0.45,"c":230},{"x":0.023,"y":0.5,"c":745},{"x":0.023,"y":0.55,"c":790},{"x":0.023,"y":0.6,"c":755},{"x":0.023,"y":0.65,"c":790},{"x":0.023,"y":0.7,"c":795},{"x":0.023,"y":0.75,"c":675},{"x":0.023,"y":0.8,"c":94},{"x":0.023,"y":0.85,"c":30},{"x":0.023,"y":0.9,"c":7},{"x":0.023,"y":0.95,"c":2},
{"x":0.024,"y":0.45,"c":215},{"x":0.024,"y":0.5,"c":730},{"x":0.024,"y":0.55,"c":770},{"x":0.024,"y":0.6,"c":785},{"x":0.024,"y":0.65,"c":775},{"x":0.024,"y":0.7,"c":755},{"x":0.024,"y":0.75,"c":700},{"x":0.024,"y":0.8,"c":105},{"x":0.024,"y":0.85,"c":28},{"x":0.024,"y":0.9,"c":10},
{"x":0.025,"y":0.45,"c":240},{"x":0.025,"y":0.5,"c":710},{"x":0.025,"y":0.55,"c":805},{"x":0.025,"y":0.6,"c":770},{"x":0.025,"y":0.65,"c":760},{"x":0.025,"y":0.7,"c":780},{"x":0.025,"y":0.75,"c":685},{"x":0.025,"y":0.8,"c":91},{"x":0.025,"y":0.85,"c":31},{"x":0.025,"y":0.9,"c":8},
{"x":0.026,"y":0.45,"c":205},{"x":0.026,"y":0.5,"c":750},{"x":0.026,"y":0.55,"c":765},{"x":0.026,"y":0.6,"c":790},{"x":0.026,"y":0.65,"c":800},{"x":0.026,"y":0.7,"c":760},{"x":0.026,"y":0.75,"c":710},{"x":0.026,"y":0.8,"c":117},{"x":0.026,"y":0.85,"c":27},{"x":0.026,"y":0.9,"c":9},
{"x":0.027,"y":0.45,"c":225},{"x":0.027,"y":0.5,"c":720},{"x":0.027,"y":0.55,"c":780},{"x":0.027,"y":0.6,"c":765},{"x":0.027,"y":0.65,"c":770},{"x":0.027,"y":0.7,"c":790},{"x":0.027,"y":0.75,"c":535},{"x":0.027,"y":0.8,"c":150},{"x":0.027,"y":0.85,"c":29},{"x":0.027,"y":0.9,"c":6},{"x":0.027,"y":0.95,"c":2},{"x":0.027,"y":1.05,"c":1},
{"x":0.028,"y":0.45,"c":245},{"x":0.028,"y":0.5,"c":735},{"x":0.028,"y":0.55,"c":760},{"x":0.028,"y":0.6,"c":800},{"x":0.028,"y":0.65,"c":785},{"x":0.028,"y":0.7,"c":745},{"x":0.028,"y":0.75,"c":690},{"x":0.028,"y":0.8,"c":280},{"x":0.028,"y":0.85,"c":32},{"x":0.028,"y":0.9,"c":8},
{"x":0.029,"y":0.45,"c":210},{"x":0.029,"y":0.5,"c":705},{"x":0.029,"y":0.55,"c":795},{"x":0.029,"y":0.6,"c":775},{"x":0.029,"y":0.65,"c":750},{"x":0.029,"y":0.7,"c":775},{"x":0.029,"y":0.75,"c":700},{"x":0.029,"y":0.8,"c":100},{"x":0.029,"y":0.85,"c":30},{"x":0.029,"y":0.9,"c":10},
{"x":0.03,"y":0.45,"c":235},{"x":0.03,"y":0.5,"c":745},{"x":0.03,"y":0.55,"c":770},{"x":0.03,"y":0.6,"c":760},{"x":0.03,"y":0.65,"c":795},{"x":0.03,"y":0.7,"c":800},{"x":0.03,"y":0.75,"c":680},{"x":0.03,"y":0.8,"c":96},{"x":0.03,"y":0.85,"c":28},{"x":0.03,"y":0.9,"c":9},{"x":0.03,"y":0.95,"c":2},
{"x":0.031,"y":0.45,"c":220},{"x":0.031,"y":0.5,"c":725},{"x":0.031,"y":0.55,"c":790},{"x":0.031,"y":0.6,"c":795},{"x":0.031,"y":0.65,"c":765},{"x":0.031,"y":0.7,"c":760},{"x":0.031,"y":0.75,"c":695},{"x":0.031,"y":0.8,"c":108},{"x":0.031,"y":0.85,"c":31},{"x":0.031,"y":0.9,"c":7},{"x":0.031,"y":0.95,"c":2},{"x":0.031,"y":1,"c":1},
{"x":0.032,"y":0.45,"c":200},{"x":0.032,"y":0.5,"c":740},{"x":0.032,"y":0.55,"c":755},{"x":0.032,"y":0.6,"c":770},{"x":0.032,"y":0.65,"c":780},{"x":0.032,"y":0.7,"c":785},{"x":0.032,"y":0.75,"c":705},{"x":0.032,"y":0.8,"c":93},{"x":0.032,"y":0.85,"c":26},{"x":0.032,"y":0.9,"c":8},{"x":0.032,"y":0.95,"c":2},
{"x":0.033,"y":0.45,"c":250},{"x":0.033,"y":0.5,"c":715},{"x":0.033,"y":0.55,"c":805},{"x":0.033,"y":0.6,"c":785},{"x":0.033,"y":0.65,"c":670},{"x":0.033,"y":0.7,"c":750},{"x":0.033,"y":0.75,"c":670},{"x":0.033,"y":0.8,"c":112},{"x":0.033,"y":0.85,"c":29},{"x":0.033,"y":0.9,"c":10},
{"x":0.034,"y":0.45,"c":230},{"x":0.034,"y":0.5,"c":730},{"x":0.034,"y":0.55,"c":775},{"x":0.034,"y":0.6,"c":755},{"x":0.034,"y":0.65,"c":800},{"x":0.034,"y":0.7,"c":795},{"x":0.034,"y":0.75,"c":690},{"x":0.034,"y":0.8,"c":99},{"x":0.034,"y":0.85,"c":33},{"x":0.034,"y":0.9,"c":9},
{"x":0.035,"y":0.45,"c":215},{"x":0.035,"y":0.5,"c":750},{"x":0.035,"y":0.55,"c":785},{"x":0.035,"y":0.6,"c":790},{"x":0.035,"y":0.65,"c":770},{"x":0.035,"y":0.7,"c":765},{"x":0.035,"y":0.75,"c":700},{"x":0.035,"y":0.8,"c":104},{"x":0.035,"y":0.85,"c":30},
{"x":0.036,"y":0.45,"c":205},{"x":0.036,"y":0.5,"c":710},{"x":0.036,"y":0.55,"c":760},{"x":0.036,"y":0.6,"c":775},{"x":0.036,"y":0.65,"c":755},{"x":0.036,"y":0.7,"c":780},{"x":0.036,"y":0.75,"c":685},{"x":0.036,"y":0.8,"c":95},{"x":0.036,"y":0.85,"c":27},{"x":0.036,"y":0.9,"c":8},{"x":0.036,"y":0.95,"c":2},
{"x":0.037,"y":0.45,"c":240},{"x":0.037,"y":0.5,"c":735},{"x":0.037,"y":0.55,"c":800},{"x":0.037,"y":0.6,"c":800},{"x":0.037,"y":0.65,"c":790},{"x":0.037,"y":0.7,"c":755},{"x":0.037,"y":0.75,"c":710},{"x":0.037,"y":0.8,"c":110},{"x":0.037,"y":0.85,"c":28},{"x":0.037,"y":0.9,"c":7},
{"x":0.038,"y":0.45,"c":225},{"x":0.038,"y":0.5,"c":720},{"x":0.038,"y":0.55,"c":770},{"x":0.038,"y":0.6,"c":765},{"x":0.038,"y":0.65,"c":775},{"x":0.038,"y":0.7,"c":790},{"x":0.038,"y":0.75,"c":675},{"x":0.038,"y":0.8,"c":92},{"x":0.038,"y":0.85,"c":31},{"x":0.038,"y":0.9,"c":10},
{"x":0.039,"y":0.45,"c":210},{"x":0.039,"y":0.5,"c":745},{"x":0.039,"y":0.55,"c":790},{"x":0.039,"y":0.6,"c":780},{"x":0.039,"y":0.65,"c":760},{"x":0.039,"y":0.7,"c":770},{"x":0.039,"y":0.75,"c":695},{"x":0.039,"y":0.8,"c":106},{"x":0.039,"y":0.85,"c":29},{"x":0.039,"y":0.9,"c":9},
{"x":0.04,"y":0.45,"c":235},{"x":0.04,"y":0.5,"c":660},{"x":0.04,"y":0.55,"c":765},{"x":0.04,"y":0.6,"c":805},{"x":0.04,"y":0.65,"c":805},{"x":0.04,"y":0.7,"c":745},{"x":0.04,"y":0.75,"c":700},{"x":0.04,"y":0.8,"c":97},{"x":0.04,"y":0.85,"c":32},{"x":0.04,"y":0.9,"c":6},
{"x":0.041,"y":0.45,"c":250},{"x":0.041,"y":0.5,"c":740},{"x":0.041,"y":0.55,"c":795},{"x":0.041,"y":0.6,"c":760},{"x":0.041,"y":0.65,"c":770},{"x":0.041,"y":0.7,"c":785},{"x":0.041,"y":0.75,"c":680},{"x":0.041,"y":0.8,"c":101},{"x":0.041,"y":0.85,"c":30},{"x":0.041,"y":0.9,"c":8},
{"x":0.042,"y":0.45,"c":220},{"x":0.042,"y":0.5,"c":725},{"x":0.042,"y":0.55,"c":775},{"x":0.042,"y":0.6,"c":790},{"x":0.042,"y":0.65,"c":785},{"x":0.042,"y":0.7,"c":760},{"x":0.042,"y":0.75,"c":705},{"x":0.042,"y":0.8,"c":114},{"x":0.042,"y":0.85,"c":26},{"x":0.042,"y":0.9,"c":9},{"x":0.042,"y":1,"c":1},
{"x":0.043,"y":0.45,"c":200},{"x":0.043,"y":0.5,"c":715},{"x":0.043,"y":0.55,"c":755},{"x":0.043,"y":0.6,"c":770},{"x":0.043,"y":0.65,"c":750},{"x":0.043,"y":0.7,"c":800},{"x":0.043,"y":0.75,"c":690},{"x":0.043,"y":0.8,"c":90},{"x":0.043,"y":0.85,"c":28},{"x":0.043,"y":0.9,"c":7},
{"x":0.044,"y":0.45,"c":230},{"x":0.044,"y":0.5,"c":750},{"x":0.044,"y":0.55,"c":820},{"x":0.044,"y":0.6,"c":785},{"x":0.044,"y":0.65,"c":795},{"x":0.044,"y":0.7,"c":770},{"x":0.044,"y":0.75,"c":670},{"x":0.044,"y":0.8,"c":103},{"x":0.044,"y":0.85,"c":31},{"x":0.044,"y":0.9,"c":10},
{"x":0.045,"y":0.45,"c":215},{"x":0.045,"y":0.5,"c":730},{"x":0.045,"y":0.55,"c":770},{"x":0.045,"y":0.6,"c":755},{"x":0.045,"y":0.65,"c":770},{"x":0.045,"y":0.7,"c":755},{"x":0.045,"y":0.75,"c":695},{"x":0.045,"y":0.8,"c":98},{"x":0.045,"y":0.85,"c":29},{"x":0.045,"y":0.9,"c":8},
{"x":0.046,"y":0.45,"c":245},{"x":0.046,"y":0.5,"c":710},{"x":0.046,"y":0.55,"c":790},{"x":0.046,"y":0.6,"c":800},{"x":0.046,"y":0.65,"c":760},{"x":0.046,"y":0.7,"c":790},{"x":0.046,"y":0.75,"c":710},{"x":0.046,"y":0.8,"c":109},{"x":0.046,"y":0.85,"c":33},{"x":0.046,"y":0.9,"c":9},
{"x":0.047,"y":0.45,"c":205},{"x":0.047,"y":0.5,"c":745},{"x":0.047,"y":0.55,"c":760},{"x":0.047,"y":0.6,"c":775},{"x":0.047,"y":0.65,"c":800},{"x":0.047,"y":0.7,"c":765},{"x":0.047,"y":0.75,"c":685},{"x":0.047,"y":0.8,"c":94},{"x":0.047,"y":0.85,"c":27},{"x":0.047,"y":0.9,"c":6},
{"x":0.048,"y":0.45,"c":225},{"x":0.048,"y":0.5,"c":720},{"x":0.048,"y":0.55,"c":805},{"x":0.048,"y":0.6,"c":765},{"x":0.048,"y":0.65,"c":770},{"x":0.048,"y":0.7,"c":745},{"x":0.048,"y":0.75,"c":700},{"x":0.048,"y":0.8,"c":107},{"x":0.048,"y":0.85,"c":30},{"x":0.048,"y":0.9,"c":8},{"x":0.048,"y":1,"c":1},
{"x":0.049,"y":0.45,"c":240},{"x":0.049,"y":0.5,"c":735},{"x":0.049,"y":0.55,"c":775},{"x":0.049,"y":0.6,"c":790},{"x":0.049,"y":0.65,"c":755},{"x":0.049,"y":0.7,"c":780},{"x":0.049,"y":0.75,"c":690},{"x":0.049,"y":0.8,"c":100},{"x":0.049,"y":0.85,"c":28},{"x":0.049,"y":0.9,"c":7}
              ]},
              "mark": {"type": "rect"},
              "encoding": {
                "x": {"field": "x", "type": "quantitative", "bin": {"binned": true, "step": 0.001},
                  "scale": {"domain": [-0.05, 0.05], "nice": false, "zero": false},
                  "axis": {"orient": "bottom", "values": [-0.05, -0.04, -0.03, -0.02, -0.01, 0, 0.01, 0.02, 0.03, 0.04, 0.05],
                    "tickSize": -19, "labelPadding": 25, "labelFontSize": 24, "labelFontWeight": "bold",
                    "labelExpr": "datum.value == 0 ? '0' : format(datum.value, '.2f')",
                    "labelFlush": false, "labelOverlap": false, "labelBound": false,
                    "title": "hsyptar (in-planne angle)", "titleFontSize": 25.5, "titleFontWeight": "bold", "titlePadding": 6}},
                "y": {"field": "y", "type": "quantitative", "bin": {"binned": true, "step": 0.05},
                  "scale": {"domain": [-5, 5], "nice": false, "zero": false},
                  "axis": {"orient": "left", "values": [-5, -4, -3, -2, -1, 0, 1, 2, 3, 4, 5],
                    "tickSize": -36, "labelPadding": 43, "labelFontSize": 24, "labelFontWeight": "bold",
                    "labelExpr": "format(datum.value, 'd')",
                    "labelFlush": false, "labelOverlap": false, "labelBound": false,
                    "title": "Energy Loss (MeV)", "titleFontSize": 25.5, "titleFontWeight": "bold", "titlePadding": 36}},
                "color": {"field": "c", "type": "quantitative",
                  "scale": {"type": "quantize", "domain": [0, 858], "nice": false, "zero": false,
                    "range": ["#273da8", "#1751cb", "#1063dc", "#1271d9", "#1480d6", "#0e8ed1", "#099dcc", "#0da7c3", "#1eafb3", "#2eb7a4", "#53ba91", "#74bd80", "#96be71", "#b4bd65", "#d1bb59", "#e3c04a", "#f5c63a", "#fdd32a", "#fbe81c", "#f9fb0e"]},
                  "legend": null}
              }
            },
            {
              "data": {"values": []},
              "mark": {"type": "point"},
              "encoding": {
                "x": {"field": "x", "type": "quantitative", "scale": {"domain": [-0.05, 0.05], "nice": false, "zero": false},
                  "axis": {"orient": "bottom", "values": [-0.048, -0.046, -0.044, -0.042, -0.038, -0.036, -0.034, -0.032, -0.028, -0.026, -0.024, -0.022, -0.018, -0.016, -0.014, -0.012, -0.008, -0.006, -0.004, -0.002, 0.002, 0.004, 0.006, 0.008, 0.012, 0.014, 0.016, 0.018, 0.022, 0.024, 0.026, 0.028, 0.032, 0.034, 0.036, 0.038, 0.042, 0.044, 0.046, 0.048],
                    "tickSize": -9.5, "labels": false, "title": null}},
                "y": {"field": "y", "type": "quantitative", "scale": {"domain": [-5, 5], "nice": false, "zero": false},
                  "axis": {"orient": "left", "values": [-4.8, -4.6, -4.4, -4.2, -3.8, -3.6, -3.4, -3.2, -2.8, -2.6, -2.4, -2.2, -1.8, -1.6, -1.4, -1.2, -0.8, -0.6, -0.4, -0.2, 0.2, 0.4, 0.6, 0.8, 1.2, 1.4, 1.6, 1.8, 2.2, 2.4, 2.6, 2.8, 3.2, 3.4, 3.6, 3.8, 4.2, 4.4, 4.6, 4.8],
                    "tickSize": -18, "labels": false, "title": null}}
              }
            }
          ],
          "resolve": {"axis": {"x": "independent", "y": "independent"}}
        },
        {
          "layer": [
            {
              "data": {"values": [{"box": "h5"}]},
              "mark": {"type": "rect", "fill": "white", "stroke": "black", "strokeWidth": 1.5},
              "encoding": {
                "x": {"datum": 0, "type": "quantitative", "scale": {"domain": [-8.861, 3.119], "nice": false, "zero": false}, "axis": null},
                "x2": {"datum": 3},
                "y": {"datum": -0.5, "type": "quantitative", "scale": {"domain": [-0.7215, 28.502], "reverse": true, "nice": false, "zero": false}, "axis": null},
                "y2": {"datum": 8.5}
              }
            },
            {
              "data": {"values": [{"sep": 0.5}, {"sep": 5.5}, {"sep": 6.5}, {"sep": 7.5}]},
              "mark": {"type": "rule", "color": "black", "strokeWidth": 1.5},
              "encoding": {
                "x": {"datum": 0, "type": "quantitative", "scale": {"domain": [-8.861, 3.119], "nice": false, "zero": false}, "axis": null},
                "x2": {"datum": 3},
                "y": {"field": "sep", "type": "quantitative", "scale": {"domain": [-0.7215, 28.502], "reverse": true, "nice": false, "zero": false}, "axis": null}
              }
            },
            {
              "data": {"values": [{"div": 1}, {"div": 2}]},
              "mark": {"type": "rule", "color": "black", "strokeWidth": 1.5},
              "encoding": {
                "x": {"field": "div", "type": "quantitative", "scale": {"domain": [-8.861, 3.119], "nice": false, "zero": false}, "axis": null},
                "y": {"datum": 5.5, "type": "quantitative", "scale": {"domain": [-0.7215, 28.502], "reverse": true, "nice": false, "zero": false}, "axis": null},
                "y2": {"datum": 8.5}
              }
            },
            {
              "data": {"values": [{"t": "h5", "ln": 0}]},
              "mark": {"type": "text", "align": "center"},
              "encoding": {
                "x": {"datum": 1.5, "type": "quantitative", "scale": {"domain": [-8.861, 3.119], "nice": false, "zero": false}, "axis": null},
                "y": {"field": "ln", "type": "quantitative", "scale": {"domain": [-0.7215, 28.502], "reverse": true, "nice": false, "zero": false}, "axis": null},
                "text": {"field": "t"}
              }
            },
            {
              "data": {"values": [
                {"k": "Entries", "v": "500000", "ln": 1},
                {"k": "Mean x", "v": "0.0002207", "ln": 2},
                {"k": "Mean y", "v": "0.647", "ln": 3},
                {"k": "Std Dev x", "v": "0.02882", "ln": 4},
                {"k": "Std Dev y", "v": "0.09497", "ln": 5}
              ]},
              "layer": [
                {
                  "mark": {"type": "text", "align": "left", "dx": 15},
                  "encoding": {
                    "x": {"datum": 0, "type": "quantitative", "scale": {"domain": [-8.861, 3.119], "nice": false, "zero": false}, "axis": null},
                    "y": {"field": "ln", "type": "quantitative", "scale": {"domain": [-0.7215, 28.502], "reverse": true, "nice": false, "zero": false}, "axis": null},
                    "text": {"field": "k"}
                  }
                },
                {
                  "mark": {"type": "text", "align": "right", "dx": -15},
                  "encoding": {
                    "x": {"datum": 3, "type": "quantitative", "scale": {"domain": [-8.861, 3.119], "nice": false, "zero": false}, "axis": null},
                    "y": {"field": "ln", "type": "quantitative", "scale": {"domain": [-0.7215, 28.502], "reverse": true, "nice": false, "zero": false}, "axis": null},
                    "text": {"field": "v"}
                  }
                }
              ]
            },
            {
              "data": {"values": [
                {"n": "0", "ln": 6, "col": 0}, {"n": "0", "ln": 6, "col": 1}, {"n": "0", "ln": 6, "col": 2},
                {"n": "8239", "ln": 7, "col": 0}, {"n": "483333", "ln": 7, "col": 1}, {"n": "8428", "ln": 7, "col": 2},
                {"n": "0", "ln": 8, "col": 0}, {"n": "0", "ln": 8, "col": 1}, {"n": "0", "ln": 8, "col": 2}
              ]},
              "mark": {"type": "text", "align": "center", "dx": 50.5},
              "encoding": {
                "x": {"field": "col", "type": "quantitative", "scale": {"domain": [-8.861, 3.119], "nice": false, "zero": false}, "axis": null},
                "y": {"field": "ln", "type": "quantitative", "scale": {"domain": [-0.7215, 28.502], "reverse": true, "nice": false, "zero": false}, "axis": null},
                "text": {"field": "n"}
              }
            }
          ]
        }
      ],
      "resolve": {"scale": {"x": "independent", "y": "independent"}}
    },
    {
      "width": 66,
      "height": 640,
      "view": {"stroke": null},
      "data": {"values": [
        {"lo": 0, "hi": 42.9}, {"lo": 42.9, "hi": 85.8}, {"lo": 85.8, "hi": 128.7}, {"lo": 128.7, "hi": 171.6},
        {"lo": 171.6, "hi": 214.5}, {"lo": 214.5, "hi": 257.4}, {"lo": 257.4, "hi": 300.3}, {"lo": 300.3, "hi": 343.2},
        {"lo": 343.2, "hi": 386.1}, {"lo": 386.1, "hi": 429}, {"lo": 429, "hi": 471.9}, {"lo": 471.9, "hi": 514.8},
        {"lo": 514.8, "hi": 557.7}, {"lo": 557.7, "hi": 600.6}, {"lo": 600.6, "hi": 643.5}, {"lo": 643.5, "hi": 686.4},
        {"lo": 686.4, "hi": 729.3}, {"lo": 729.3, "hi": 772.2}, {"lo": 772.2, "hi": 815.1}, {"lo": 815.1, "hi": 858}
      ]},
      "mark": {"type": "rect"},
      "encoding": {
        "x": {"value": 0},
        "x2": {"value": "width"},
        "y": {"field": "lo", "type": "quantitative", "scale": {"domain": [0, 858], "nice": false, "zero": false},
          "axis": {"orient": "right", "values": [0, 100, 200, 300, 400, 500, 600, 700, 800], "tickSize": -32, "labelPadding": 40,
            "tickColor": {"condition": {"test": "datum.value == 0", "value": "transparent"}, "value": "black"},
            "labelFontSize": 25, "labelFontWeight": "normal", "labelFlush": false, "labelOverlap": false, "labelBound": false,
            "domain": true, "domainColor": "black", "domainWidth": 1, "title": null}},
        "y2": {"field": "hi"},
        "color": {"field": "lo", "type": "quantitative",
          "scale": {"type": "quantize", "domain": [0, 858], "nice": false, "zero": false,
            "range": ["#273da8", "#1751cb", "#1063dc", "#1271d9", "#1480d6", "#0e8ed1", "#099dcc", "#0da7c3", "#1eafb3", "#2eb7a4", "#53ba91", "#74bd80", "#96be71", "#b4bd65", "#d1bb59", "#e3c04a", "#f5c63a", "#fdd32a", "#fbe81c", "#f9fb0e"]},
          "legend": null}
      }
    }
  ]
}
